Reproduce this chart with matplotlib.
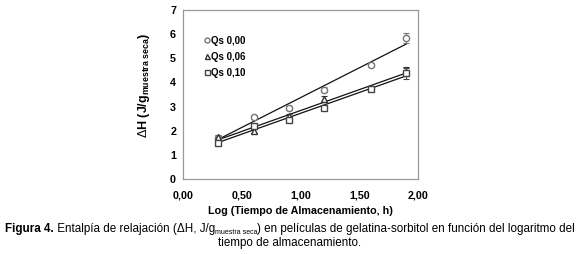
import numpy as np
import matplotlib
matplotlib.use("Agg")
import matplotlib.pyplot as plt

plt.rcParams['font.family'] = ['Liberation Sans', 'DejaVu Sans']
plt.rcParams['mathtext.fontset'] = 'custom'
plt.rcParams['mathtext.rm'] = 'Liberation Sans'
plt.rcParams['mathtext.bf'] = 'Liberation Sans:bold'
plt.rcParams['mathtext.it'] = 'Liberation Sans:italic'

# Data
log_time = [0.30, 0.60, 0.90, 1.20, 1.60, 1.90]
qs000 = [1.70, 2.58, 2.93, 3.69, 4.72, 5.83]
qs006 = [1.75, 1.98, 2.62, 3.30, 3.78, 4.45]
qs010 = [1.50, 2.20, 2.45, 2.93, 3.72, 4.38]
err000 = [0.08, 0.08, 0.08, 0.10, 0.08, 0.20]
err006 = [0.08, 0.08, 0.08, 0.12, 0.08, 0.20]
err010 = [0.08, 0.08, 0.08, 0.08, 0.08, 0.22]
labels = ["Qs 0,00", "Qs 0,06", "Qs 0,10"]
xticks = [0.0, 0.5, 1.0, 1.5, 2.0]
xticklabels = ["0,00", "0,50", "1,00", "1,50", "2,00"]
yticks = [0, 1, 2, 3, 4, 5, 6, 7]

fig = plt.figure(figsize=(5.8, 2.54), dpi=100)
ax = fig.add_axes([183/580, 1-179/254, (418-183)/580, (179-10)/254])

series = [(qs000, err000, 'o', '#777777'), (qs006, err006, '^', '#333333'), (qs010, err010, 's', '#444444')]
x = np.array(log_time)
handles = []
for (ys, es, m, c), lab in zip(series, labels):
    ys = np.array(ys)
    k, b = np.polyfit(x, ys, 1)
    ax.plot([x[0], x[-1]], [k*x[0]+b, k*x[-1]+b], color='#111111', lw=0.9, zorder=2)
    ax.errorbar(x, ys, yerr=es, fmt='none', ecolor=c, elinewidth=0.8, capsize=2, capthick=0.8, zorder=3)
    h, = ax.plot(x, ys, linestyle='none', marker=m, markersize=4.5, markerfacecolor='white',
                 markeredgecolor=c, markeredgewidth=1.0, zorder=4, label=lab)
    handles.append(h)

leg = ax.legend(handles=handles, loc='upper left', bbox_to_anchor=(0.075, 0.87), frameon=False,
                handlelength=0.6, handletextpad=0.1, labelspacing=0.6, borderaxespad=0,
                prop={'weight': 'bold', 'size': 7}, markerscale=0.8)

ax.set_xlim(0, 2)
ax.set_ylim(0, 7)
ax.set_xticks(xticks)
ax.set_xticklabels(xticklabels)
ax.set_yticks(yticks)
ax.tick_params(length=0, labelsize=7.75, pad=5)
ax.tick_params(axis='x', pad=8)
for t in ax.get_xticklabels() + ax.get_yticklabels():
    t.set_fontweight('bold')
for s in ax.spines.values():
    s.set_color('#999999')
    s.set_linewidth(0.9)

ax.set_xlabel("Log (Tiempo de Almacenamiento, h)", fontsize=7.75, fontweight='bold')
ax.xaxis.set_label_coords(0.5, -(206-179)/169)
ax.set_ylabel(r"$\Delta$H (J/g$_{\mathbf{muestra\ seca}}$)", fontsize=9, fontweight='bold')
ax.yaxis.set_label_coords(-(183-152)/235, (179-85)/169)

# Caption, built from pieces
fs = 8.4
pieces = [("Figura 4.", 'bold', fs, 0),
          (" Entalpía de relajación (ΔH, J/g", 'normal', fs, 0),
          ("muestra seca", 'normal', fs*0.6, -2.5),
          (") en películas de gelatina-sorbitol en función del logaritmo del", 'normal', fs, 0)]
fig.canvas.draw()
r = fig.canvas.get_renderer()
y1 = 1 - 232/254
texts = []
for s, w, f, dy in pieces:
    t = fig.text(0, y1 + dy/254, s, fontsize=f, fontweight=w, ha='left', va='baseline')
    texts.append(t)
widths = [t.get_window_extent(r).width for t in texts]
total = sum(widths)
xpos = (580 - total) / 2
for t, wd in zip(texts, widths):
    t.set_x(xpos / 580)
    xpos += wd
fig.text(0.5, 1 - 246/254, "tiempo de almacenamiento.", fontsize=fs, ha='center', va='baseline')

fig.savefig("out.png", dpi=100)
